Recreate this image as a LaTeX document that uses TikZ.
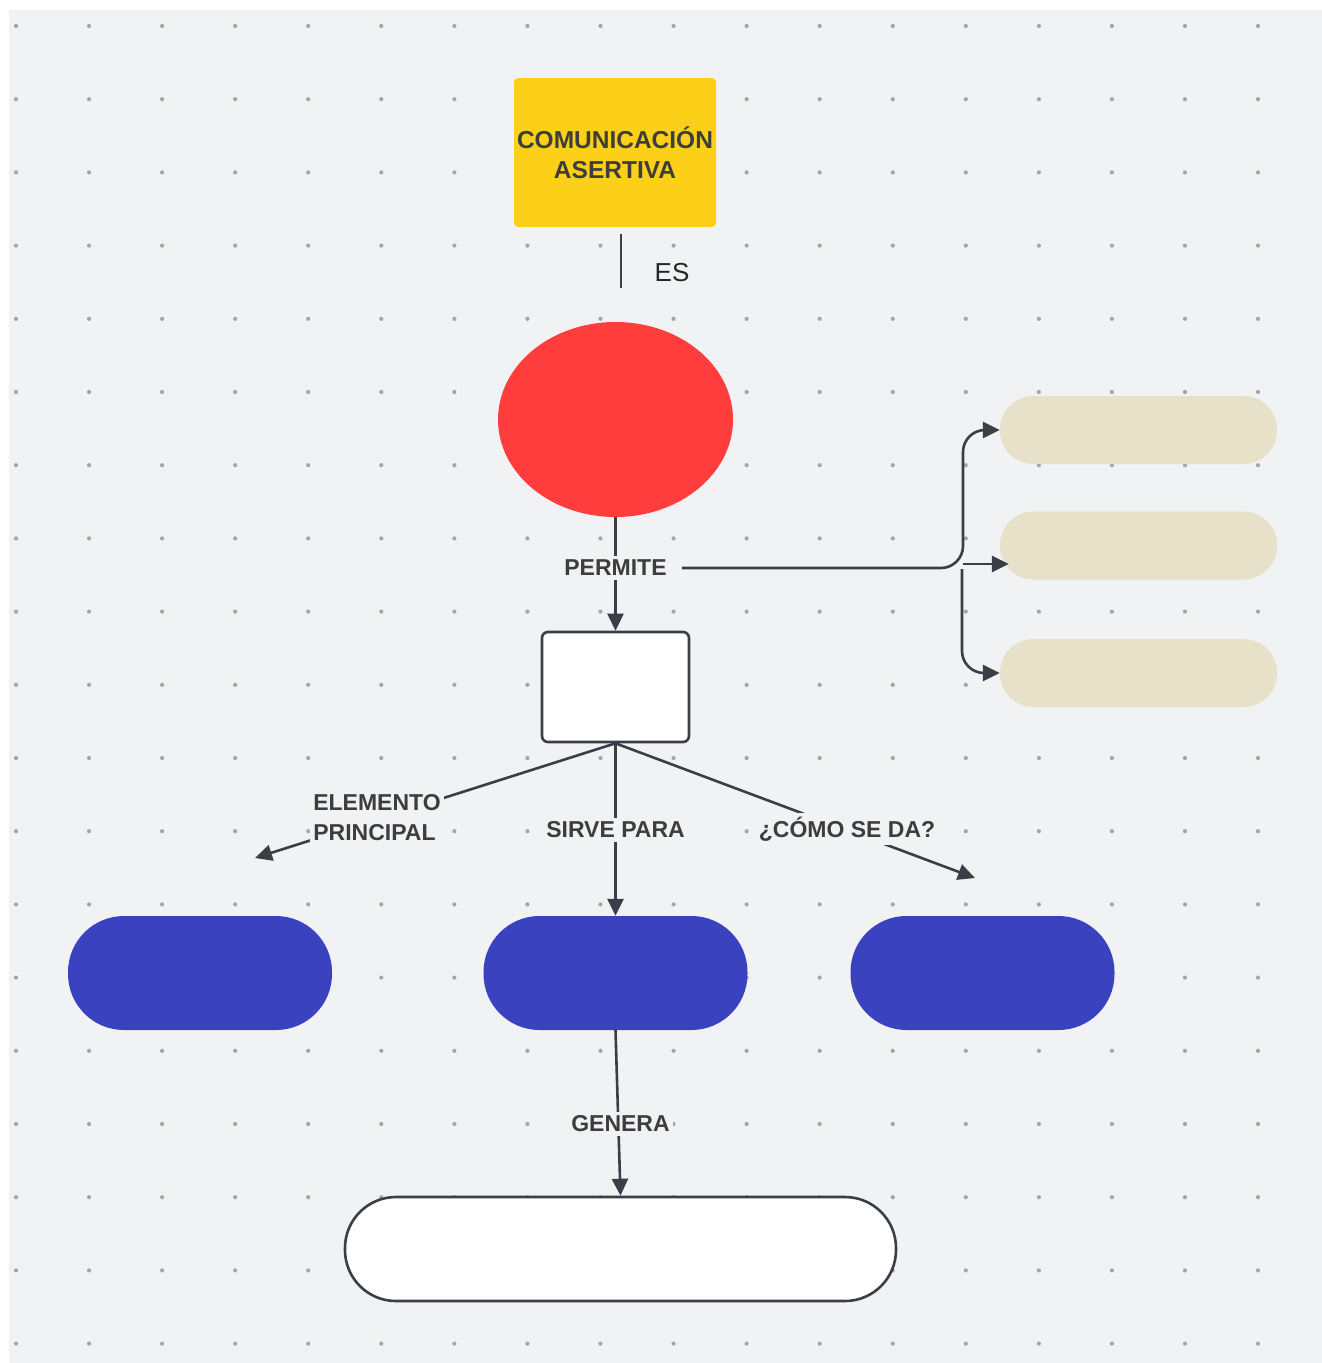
\documentclass[tikz,border=0pt]{standalone}
\usepackage{fontspec}
\setmainfont{Liberation Sans}
\usetikzlibrary{arrows.meta,shapes.geometric,calc}
\definecolor{bgc}{HTML}{F1F2F4}
\definecolor{dotc}{HTML}{A3A5A9}
\definecolor{linec}{HTML}{3A3F47}
\definecolor{txtc}{HTML}{3D3D3D}
\definecolor{yelc}{HTML}{FCCF18}
\definecolor{redc}{HTML}{FF3D3D}
\definecolor{bluec}{HTML}{3B42BF}
\definecolor{beigec}{HTML}{E7E1C9}
\tikzset{
  conn/.style={draw=linec, line width=2.6pt},
  arr/.style={-{Triangle[length=17pt,width=16pt]}},
  lbl/.style={fill=bgc, text=txtc, font=\bfseries\fontsize{23}{30}\selectfont, inner xsep=3pt, inner ysep=4pt},
  bluepill/.style={fill=bluec, minimum width=264pt, minimum height=114pt, rounded corners=56pt, inner sep=0pt},
  beigepill/.style={fill=beigec, minimum width=277pt, minimum height=68pt, rounded corners=33.5pt, inner sep=0pt},
}
\begin{document}
\begin{tikzpicture}[x=1pt,y=-1pt]
\useasboundingbox (0,0) rectangle (1322,1363);
\fill[white] (0,0) rectangle (1322,1363);
\fill[bgc] (9,10) rectangle (1322,1363);
\foreach \i in {0,...,17}{
  \foreach \j in {0,...,18}{
    \fill[dotc] ({16+73.06*\i},{26+73.2*\j}) circle (2.1pt);
  }
}
% nodes
\node[fill=yelc, rounded corners=4pt, minimum width=202pt, minimum height=149pt, inner sep=0pt,
      text=txtc, font=\bfseries\fontsize{24.5}{30}\selectfont, align=center] (yel) at (615,152.5)
      {COMUNICACIÓN\\ASERTIVA};
\node[ellipse, fill=redc, minimum width=235pt, minimum height=195pt, inner sep=0pt] (ell) at (615.5,419.5) {};
\node[draw=linec, fill=white, line width=2.6pt, rounded corners=6pt, minimum width=147pt, minimum height=110pt, inner sep=0pt] (wbox) at (615.5,687) {};
\node[beigepill] (bg1) at (1138.5,430) {};
\node[beigepill] (bg2) at (1138.5,545.5) {};
\node[beigepill] (bg3) at (1138.5,673) {};
\node[bluepill] (bp1) at (200,973) {};
\node[bluepill] (bp2) at (615.5,973) {};
\node[bluepill] (bp3) at (982.5,973) {};
\node[draw=linec, fill=white, line width=2.6pt, minimum width=551pt, minimum height=104pt, rounded corners=51pt, inner sep=0pt] (wpill) at (620.5,1249) {};
% coordinates
\coordinate (esA) at (621,234);
\coordinate (esB) at (621,288);
\coordinate (tL) at (255,858);
\coordinate (tR) at (975,878);
\coordinate (j1) at (963,564);
\coordinate (j2) at (962,569);
% ES connector
\draw[conn] (esA) -- (esB);
\node[text=black!85, font=\fontsize{26}{30}\selectfont, inner sep=0pt] (es) at (672,273) {ES};
% PERMITE
\draw[conn, arr] (ell.south) -- (wbox.north);
\node[lbl, inner xsep=15pt] (permite) at (615.5,568) {PERMITE};
\draw[conn, arr, rounded corners=22pt] (permite.east) -| (963,430) -- (bg1.west);
\draw[conn, arr] (j1) -- ([xshift=9pt]bg2.west |- j1);
\draw[conn, arr, rounded corners=22pt] (j2) |- (bg3.west);
% three branches
\draw[conn, arr] (wbox.south) -- (tL);
\draw[conn, arr] (wbox.south) -- (bp2.north);
\draw[conn, arr] (wbox.south) -- (tR);
\node[lbl, align=left] (elem) at (377,818) {ELEMENTO\\PRINCIPAL};
\node[lbl] (sirve) at (615.5,830) {SIRVE PARA};
\node[lbl] (como) at (847,829) {¿CÓMO SE DA?};
% GENERA
\draw[conn, arr] (bp2.south) -- (wpill.north);
\node[lbl] (genera) at (620.5,1124) {GENERA};
\end{tikzpicture}
\end{document}
